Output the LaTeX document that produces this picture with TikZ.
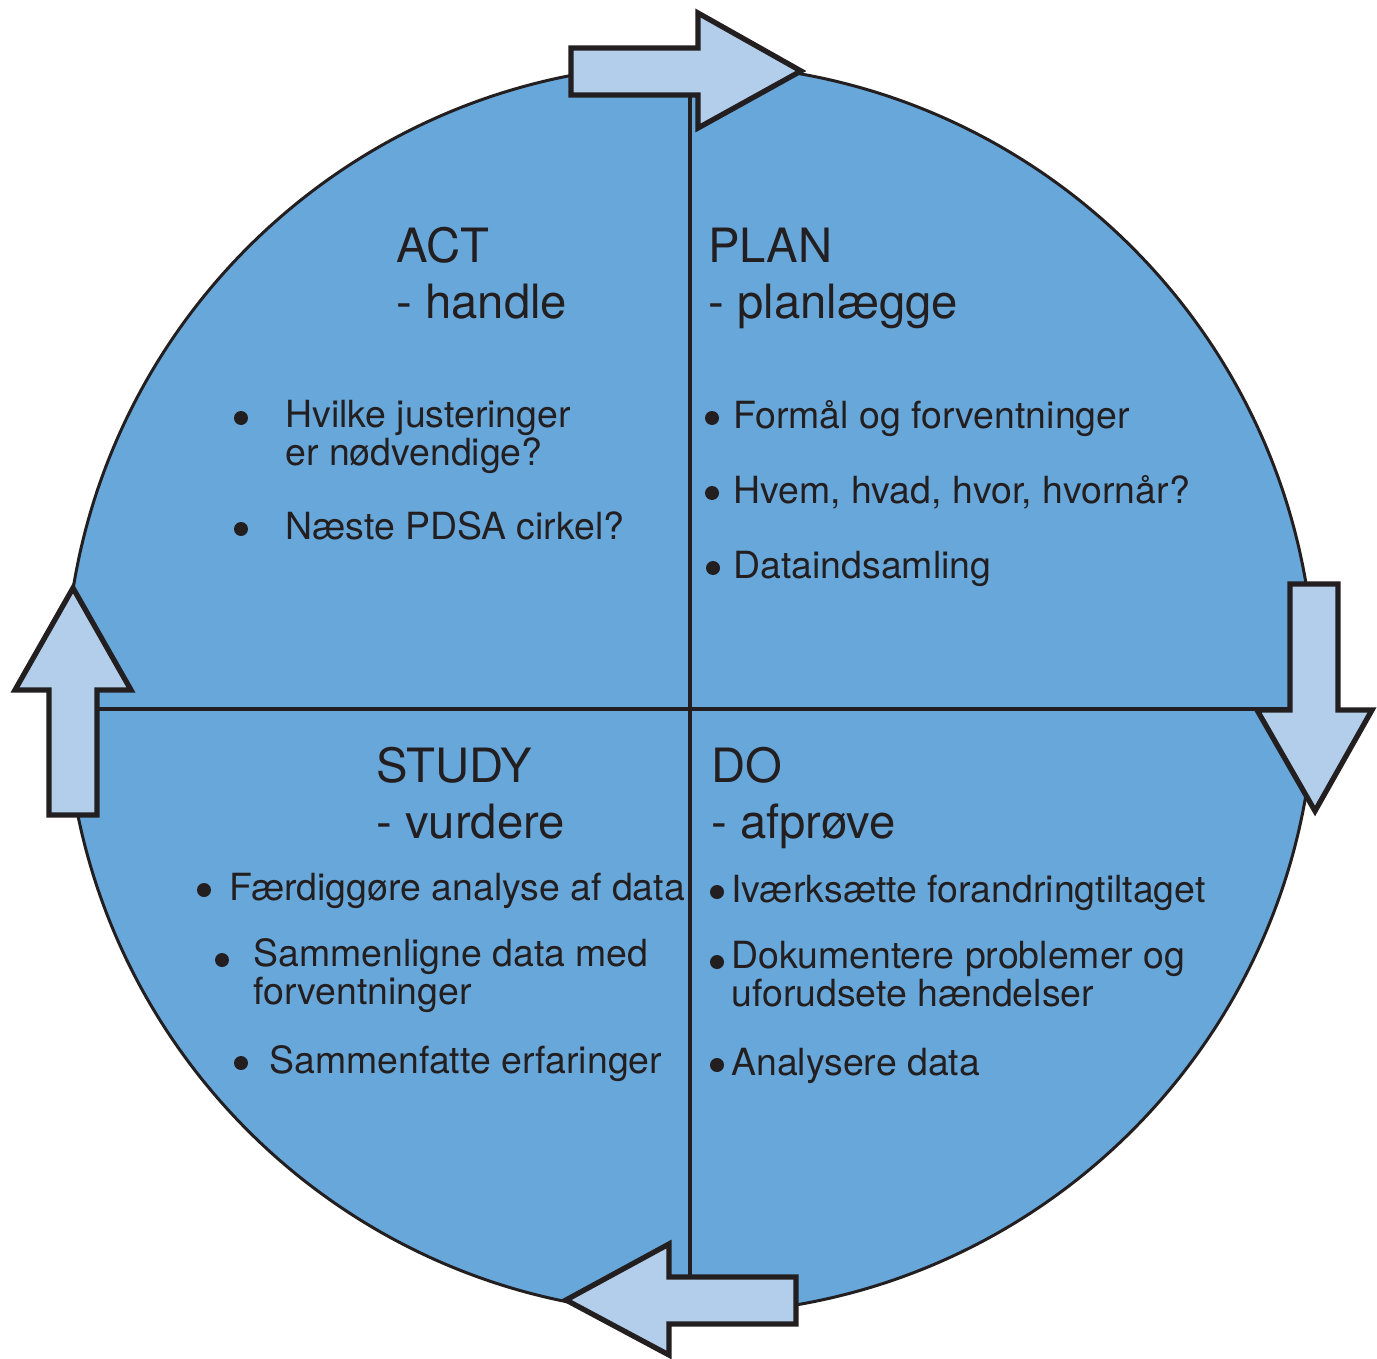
\documentclass[tikz,border=0pt]{standalone}
\usepackage{fontspec}
\setmainfont{TeX Gyre Heros}
\usepackage{xcolor}
\usepackage{tikz}
\usetikzlibrary{positioning}

\definecolor{wheelblue}{RGB}{104,167,218}
\definecolor{arrowblue}{RGB}{178,206,234}
\definecolor{inkblack}{RGB}{35,31,32}

\begin{document}
\begin{tikzpicture}[
        x=0.02cm, y=-0.02cm,
        heading/.style={
            anchor=base west, align=left, inner sep=0pt, text=inkblack,
            font=\fontsize{26.9}{31.7}\selectfont
        },
        item/.style={
            anchor=base west, align=left, inner sep=0pt, text=inkblack,
            font=\fontsize{21.3}{20}\selectfont
        },
        dot/.style={
            circle, fill=inkblack, inner sep=0pt, minimum size=0.28cm
        },
        divider/.style={draw=inkblack, line width=2pt},
        cyclearrow/.style={draw=inkblack, fill=arrowblue, line width=3pt, line join=miter},
    ]
    \useasboundingbox (0,0) rectangle (1377,1359);

    % ── Wheel ──
    \node[circle, draw=inkblack, line width=1.7pt, fill=wheelblue,
          minimum size=25cm, inner sep=0pt] (wheel) at (690,689) {};

    % ── Quadrant lines ──
    \draw[divider] (wheel.north) -- (wheel.south);
    \draw[divider] (wheel.west |- 0,709) -- (wheel.east |- 0,709);

    % ── Cycle arrows ──
    \draw[cyclearrow] (571,48) -- (698,48) -- (698,13) -- (801,71)
        -- (698,128) -- (698,95) -- (571,95) -- cycle;
    \draw[cyclearrow] (1290,584) -- (1338,584) -- (1338,710) -- (1372,710)
        -- (1315,811) -- (1257,710) -- (1290,710) -- cycle;
    \draw[cyclearrow] (796,1277) -- (796,1324) -- (669,1324) -- (669,1355)
        -- (566,1300) -- (669,1244) -- (669,1277) -- cycle;
    \draw[cyclearrow] (49,815) -- (49,690) -- (15,690) -- (73,588)
        -- (131,690) -- (97,690) -- (97,815) -- cycle;

    % ── ACT ──  (multi-line nodes sit on their last baseline)
    \node[heading] (act) at (396,318) {ACT\\- handle};
    \node[dot] (actdot1) at (241,418) {};
    \node[item] (act1) at (285,465) {Hvilke justeringer\\er nødvendige?};
    \node[dot] (actdot2) at (241,529) {};
    \node[item] (act2) at (285,539) {Næste PDSA cirkel?};

    % ── PLAN ──
    \node[heading] (plan) at (708,318) {PLAN\\- planlægge};
    \node[dot] (plandot1) at (712,418) {};
    \node[item] (plan1) at (733,428) {Formål og forventninger};
    \node[dot] (plandot2) at (712,493) {};
    \node[item] (plan2) at (733,503) {Hvem, hvad, hvor, hvornår?};
    \node[dot] (plandot3) at (713,568) {};
    \node[item] (plan3) at (733,578) {Dataindsamling};

    % ── STUDY ──
    \node[heading] (study) at (376,838) {STUDY\\- vurdere};
    \node[dot] (studydot1) at (204,890) {};
    \node[item] (study1) at (229,900) {Færdiggøre analyse af data};
    \node[dot] (studydot2) at (222,960) {};
    \node[item] (study2) at (253,1004) {Sammenligne data med\\forventninger};
    \node[dot] (studydot3) at (241,1063) {};
    \node[item] (study3) at (269,1073) {Sammenfatte erfaringer};

    % ── DO ──
    \node[heading] (do) at (711,838) {DO\\- afprøve};
    \node[dot] (dodot1) at (717,892) {};
    \node[item] (do1) at (731,902) {Iværksætte forandringtiltaget};
    \node[dot] (dodot2) at (717,962) {};
    \node[item] (do2) at (731,1006) {Dokumentere problemer og\\uforudsete hændelser};
    \node[dot] (dodot3) at (717,1065) {};
    \node[item] (do3) at (731,1075) {Analysere data};

\end{tikzpicture}
\end{document}
